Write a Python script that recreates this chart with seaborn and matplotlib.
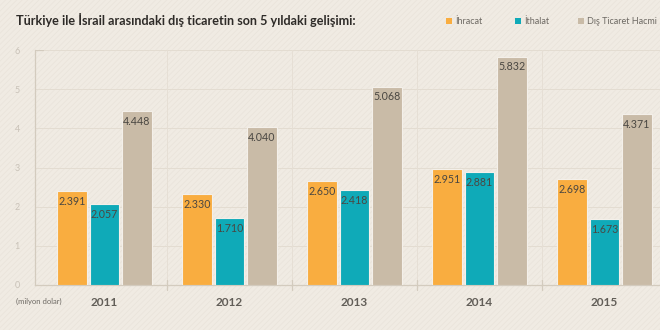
import matplotlib
matplotlib.use("Agg")
import matplotlib.pyplot as plt
import seaborn as sns
import pandas as pd
from matplotlib.patches import Rectangle

years = ["2011", "2012", "2013", "2014", "2015"]
series = ["İhracat", "İthalat", "Dış Ticaret Hacmi"]
ihracat = [2.391, 2.330, 2.650, 2.951, 2.698]
ithalat = [2.057, 1.710, 2.418, 2.881, 1.673]
hacim = [4.448, 4.040, 5.068, 5.832, 4.371]
yticks = [0, 1, 2, 3, 4, 5, 6]

colors = ["#F9AD40", "#0FAAB8", "#C9BBA7"]
bg = "#F0EBE3"

df = pd.DataFrame({
    "Yıl": years * 3,
    "Seri": [s for s in series for _ in years],
    "Değer": ihracat + ithalat + hacim,
})

sns.set_theme(style="white")
plt.rcParams["font.family"] = ["Lato", "DejaVu Sans"]
plt.rcParams["hatch.linewidth"] = 0.5
plt.rcParams["hatch.color"] = "#E9E3DA"

fig = plt.figure(figsize=(6.6, 3.3), dpi=100, facecolor=bg)

# fine diagonal texture on a background layer
bg_ax = fig.add_axes([0, 0, 1, 1], zorder=-10)
bg_ax.set_axis_off()
bg_ax.add_patch(Rectangle((0, 0), 1, 1, transform=bg_ax.transAxes,
                          facecolor=bg, edgecolor="#E9E3DA",
                          hatch="//////", linewidth=0))

ax = fig.add_axes([35 / 660, 45 / 330, 625 / 660, 235 / 330], zorder=1)
ax.set_facecolor("none")

sns.barplot(data=df, x="Yıl", y="Değer", hue="Seri", hue_order=series,
            palette=colors, saturation=1, width=0.78, gap=0.08, ax=ax,
            edgecolor="#F4F0EA", linewidth=0.8, legend=False, zorder=3)

ax.set_xlim(-0.556, 4.444)
ax.set_ylim(0, 6)

# value labels inside the bar tops
for cont in ax.containers:
    for bar, val in zip(cont, cont.datavalues):
        x = bar.get_x() + bar.get_width() / 2
        ax.annotate(f"{val:.3f}", (x, val), xytext=(0, -7.5),
                    textcoords="offset points", ha="center", va="center",
                    fontsize=7.7, color="#4A4742", zorder=5)

# grid: horizontal lines and group separators
for y in yticks[1:]:
    ax.axhline(y, color="#E3DCD1", lw=0.7, zorder=1)
for xs in [0.5, 1.5, 2.5, 3.5]:
    ax.axvline(xs, color="#E6DFD5", lw=0.7, zorder=1)
    ax.plot([xs, xs], [-0.12, 0.12], color="#D3CBBE", lw=0.9,
            clip_on=False, zorder=2)
ax.plot([-0.556, -0.49], [6, 6], color="#D3CBBE", lw=0.9, zorder=2)

for s in ["top", "right"]:
    ax.spines[s].set_visible(False)
for s in ["left", "bottom"]:
    ax.spines[s].set_color("#D3CBBE")
    ax.spines[s].set_linewidth(0.9)

ax.set_yticks(yticks)
ax.set_yticklabels([str(v) for v in yticks])
ax.tick_params(axis="y", length=3, width=0.7, color="#DDD5C9",
               labelsize=6.5, labelcolor="#C9C2B8", pad=8)
ax.tick_params(axis="x", length=0, labelsize=8.5, labelcolor="#625E58", pad=9)
for lab in ax.get_xticklabels():
    lab.set_fontweight("bold")
ax.set_xlabel("")
ax.set_ylabel("")

fig.text(16 / 660, 1 - 301 / 330, "(milyon dolar)", fontsize=5.5,
         color="#6E6A64", va="center", ha="left")

fig.text(16 / 660, 1 - 20 / 330,
         "Türkiye ile İsrail arasındaki dış ticaretin son 5 yıldaki gelişimi:",
         fontsize=9.1, fontweight="bold", color="#2E2B28", va="center", ha="left")

# legend row
legend_x = [446, 515, 578]
for lx, name, c in zip(legend_x, series, colors):
    fig.patches.append(Rectangle((lx / 660, 1 - 24 / 330), 6 / 660, 6 / 330,
                                 transform=fig.transFigure, facecolor=c,
                                 edgecolor="none"))
    fig.text((lx + 9) / 660, 1 - 21 / 330, name, fontsize=6.5,
             color="#6E6A64", va="center", ha="left")

fig.savefig("out.png", dpi=100, facecolor=bg)
